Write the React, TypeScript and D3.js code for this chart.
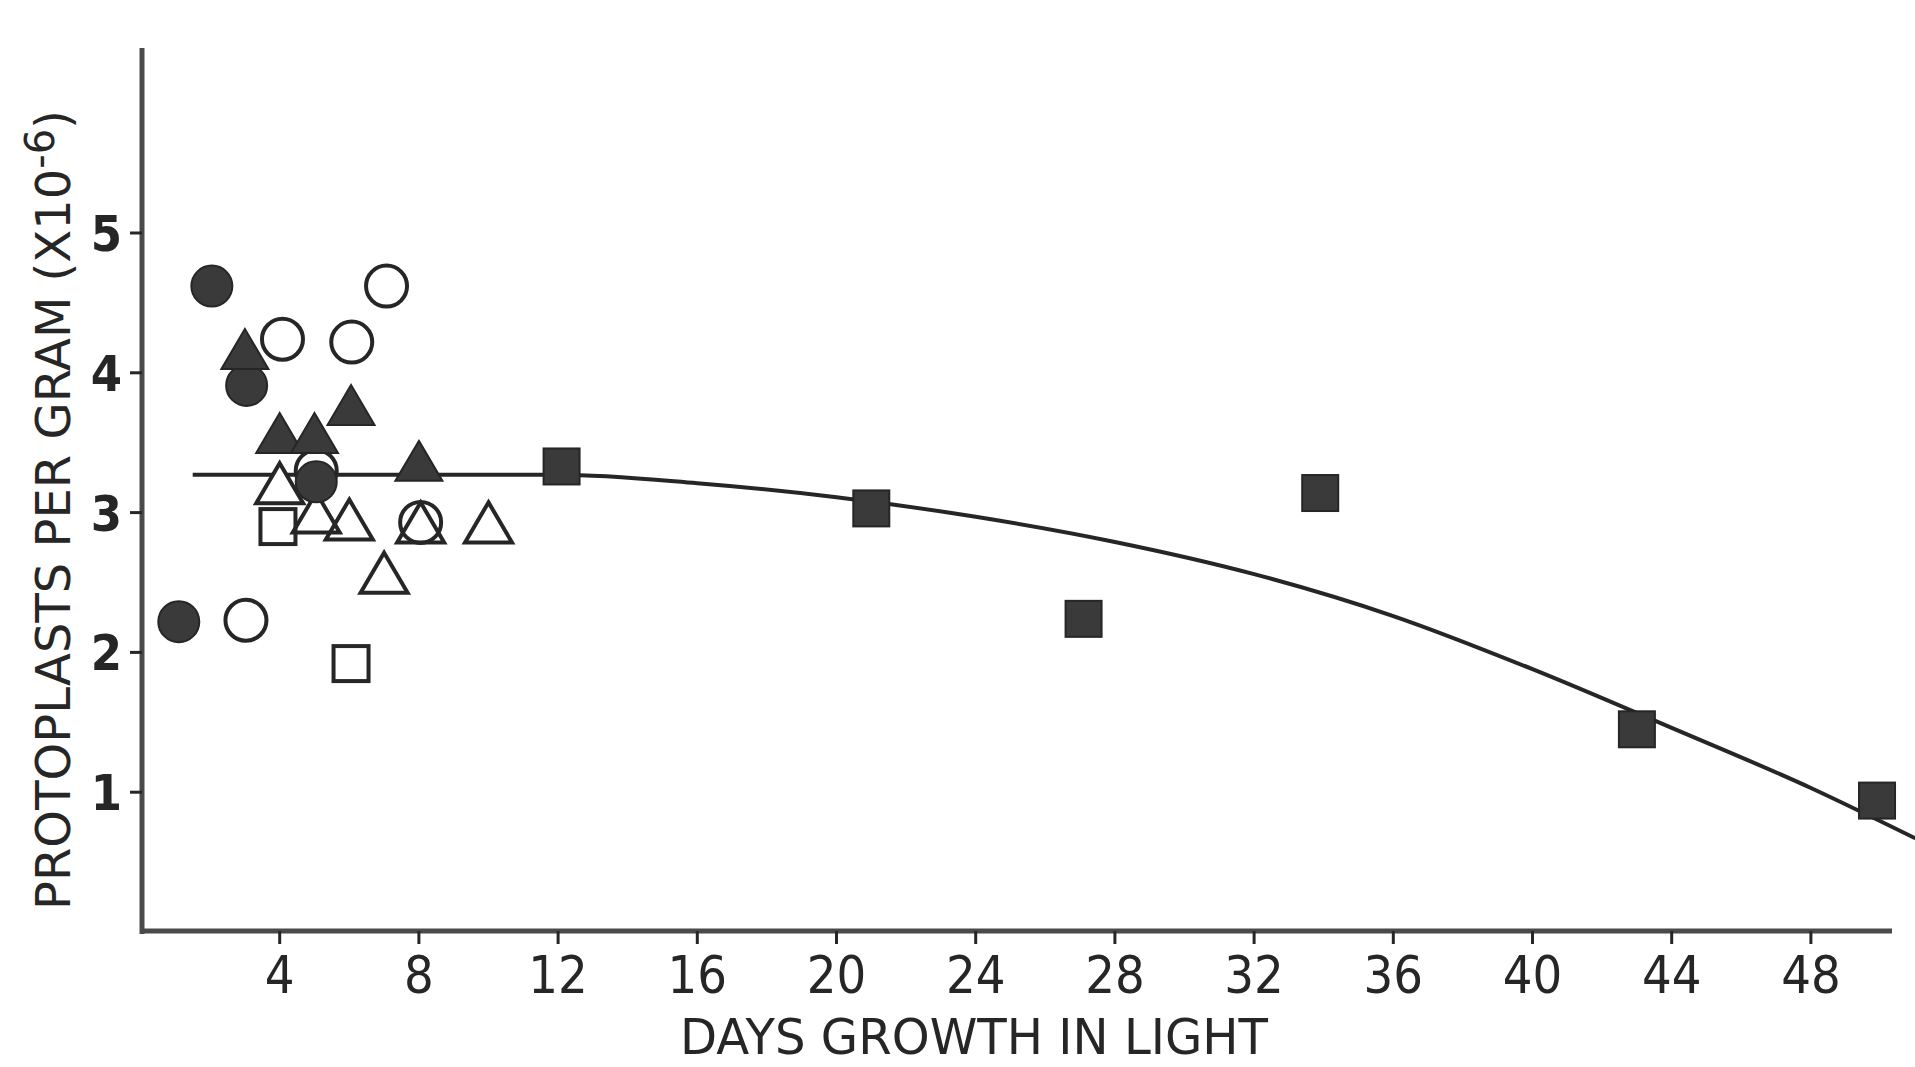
import * as d3 from 'd3'

// values
const xTicks = [4, 8, 12, 16, 20, 24, 28, 32, 36, 40, 44, 48]
const yTicks = [1, 2, 3, 4, 5]

const filledCircles: [number, number][] = [[1.1, 2.22], [2.05, 4.62], [3.05, 3.91], [5.05, 3.22]]
const openCircles: [number, number][] = [[3.03, 2.23], [4.08, 4.24], [6.07, 4.22], [7.07, 4.62], [5.05, 3.3], [8.05, 2.93]]
const filledTriangles: [number, number][] = [[3.0, 4.17], [4.0, 3.57], [5.0, 3.57], [6.05, 3.77], [8.0, 3.37]]
const openTriangles: [number, number][] = [[4.0, 3.21], [5.05, 3.0], [6.0, 2.95], [7.0, 2.57], [8.05, 2.93], [10.0, 2.93]]
const openSquares: [number, number][] = [[3.95, 2.9], [6.05, 1.92]]
const filledSquares: [number, number][] = [[12.1, 3.33], [21, 3.03], [27.1, 2.24], [33.9, 3.14], [43.0, 1.45], [49.9, 0.94]]

const fitCurve: [number, number][] = [
  [1.5, 3.27], [8, 3.27], [12, 3.27], [16, 3.21], [20, 3.11], [24, 2.97], [28, 2.79],
  [32, 2.56], [36, 2.26], [40, 1.88], [44, 1.46], [48, 1.03], [51, 0.67],
]

const W = 1915, H = 1067
const ink = '#262626'
const fillInk = '#3a3a3a'

export default function App() {
  const x = d3.scaleLinear().domain([0, 48]).range([140.5, 1810.9])
  const y = d3.scaleLinear().domain([0, 5]).range([932, 233])
  const line = d3.line<[number, number]>()
    .x(d => x(d[0])).y(d => y(d[1]))
    .curve(d3.curveMonotoneX)

  const triPath = (cx: number, cy: number) => {
    const w = 47, h = 40
    return `M${cx},${cy - h / 2}L${cx + w / 2},${cy + h / 2}L${cx - w / 2},${cy + h / 2}Z`
  }
  const r = 20.5
  const sq = 35

  return (
    <svg width={W} height={H} style={{ position: 'absolute', left: 0, top: 0, display: 'block', background: '#fff' }}>
      {/* axes */}
      <line x1={142} x2={142} y1={48} y2={934} stroke="#4a4a4a" strokeWidth={5} />
      <line x1={140} x2={1892} y1={931} y2={931} stroke="#4a4a4a" strokeWidth={5} />
      {yTicks.map(t => (
        <g key={`y${t}`}>
          <line x1={130} x2={142} y1={y(t)} y2={y(t)} stroke={ink} strokeWidth={3} />
          <text x={122} y={y(t) + 18} textAnchor="end" fontFamily="'Liberation Sans Narrow', 'DejaVu Sans Condensed', sans-serif"
            fontWeight="bold" fontSize={50} fill={ink}>{t}</text>
        </g>
      ))}
      {xTicks.map(t => (
        <g key={`x${t}`}>
          <line x1={x(t)} x2={x(t)} y1={931} y2={944} stroke={ink} strokeWidth={3} />
          <text x={x(t)} y={993} textAnchor="middle" fontFamily="'Liberation Sans Narrow', 'DejaVu Sans Condensed', sans-serif"
            fontSize={52} fill={ink}>{t}</text>
        </g>
      ))}
      <text x={974} y={1054} textAnchor="middle" fontFamily="'DejaVu Sans', sans-serif" fontSize={50}
        fill={ink} textLength={588} lengthAdjust="spacingAndGlyphs">DAYS GROWTH IN LIGHT</text>
      <text transform="translate(70,910) rotate(-90)" fontFamily="'DejaVu Sans', sans-serif" fontSize={48}
        fill={ink} textLength={800} lengthAdjust="spacingAndGlyphs">
        PROTOPLASTS PER GRAM (X10<tspan dy={-16} fontSize={40}>-6</tspan><tspan dy={16}>)</tspan>
      </text>

      {/* fitted curve */}
      <path d={line(fitCurve) ?? ''} fill="none" stroke={ink} strokeWidth={4} />

      {/* open markers: white fill layer, then outlines */}
      {openCircles.map((d, i) => <circle key={`ocf${i}`} cx={x(d[0])} cy={y(d[1])} r={r} fill="#fff" />)}
      {openTriangles.map((d, i) => <path key={`otf${i}`} d={triPath(x(d[0]), y(d[1]))} fill="#fff" />)}
      {openSquares.map((d, i) => <rect key={`osf${i}`} x={x(d[0]) - sq / 2} y={y(d[1]) - sq / 2} width={sq} height={sq} fill="#fff" />)}
      {openCircles.map((d, i) => <circle key={`oc${i}`} cx={x(d[0])} cy={y(d[1])} r={r} fill="none" stroke={ink} strokeWidth={4} />)}
      {openTriangles.map((d, i) => <path key={`ot${i}`} d={triPath(x(d[0]), y(d[1]))} fill="none" stroke={ink} strokeWidth={4} strokeLinejoin="miter" />)}
      {openSquares.map((d, i) => <rect key={`os${i}`} x={x(d[0]) - sq / 2} y={y(d[1]) - sq / 2} width={sq} height={sq} fill="none" stroke={ink} strokeWidth={4} />)}

      {/* filled markers */}
      {filledCircles.map((d, i) => <circle key={`fc${i}`} cx={x(d[0])} cy={y(d[1])} r={r} fill={fillInk} stroke={ink} strokeWidth={2} />)}
      {filledTriangles.map((d, i) => <path key={`ft${i}`} d={triPath(x(d[0]), y(d[1]))} fill={fillInk} stroke={ink} strokeWidth={2} />)}
      {filledSquares.map((d, i) => <rect key={`fs${i}`} x={x(d[0]) - 18} y={y(d[1]) - 18} width={36} height={36} fill={fillInk} stroke={ink} strokeWidth={2} />)}
    </svg>
  )
}
